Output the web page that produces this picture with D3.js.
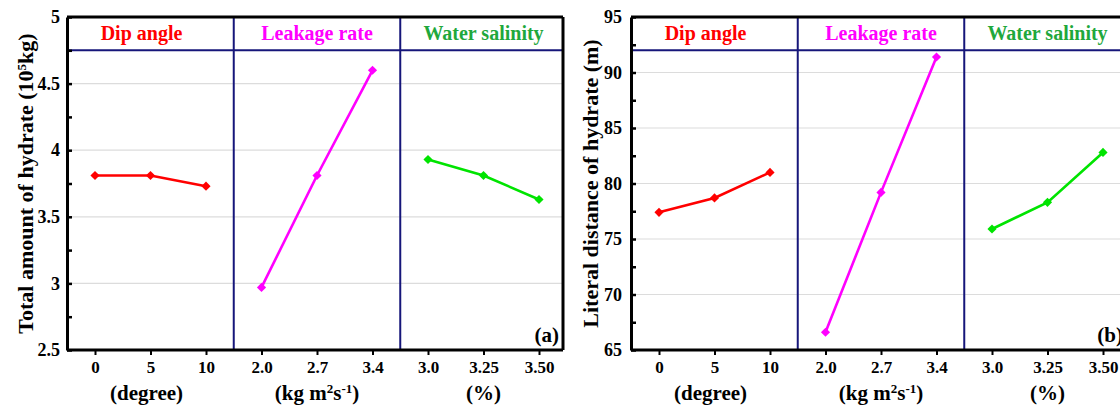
<!DOCTYPE html>
<html>
<head>
<meta charset="utf-8">
<script src="https://cdn.jsdelivr.net/npm/d3@7"></script>
<style>
  body { margin: 0; background: #fff; }
  svg { display: block; }
  svg text { font-weight: bold; fill: #000; }
</style>
</head>
<body>
<svg id="chart" width="1120" height="408"></svg>
<script>
// Factors and their levels
const groups = ["Dip angle", "Leakage rate", "Water salinity"];
const lineColors = ["#ff0000", "#ff00ff", "#00e400"];
const headerColors = ["#ff0000", "#ff00ff", "#1fa83c"];
const levelLabels = [["0", "5", "10"], ["2.0", "2.7", "3.4"], ["3.0", "3.25", "3.50"]];

// Mean response per level (one row per factor)
const hydrateAmount = [[3.81, 3.81, 3.73], [2.97, 3.81, 4.60], [3.93, 3.81, 3.63]];
const hydrateDistance = [[77.4, 78.7, 81.0], [66.6, 79.2, 91.4], [75.9, 78.3, 82.8]];

// Y axis ticks
const amountTicks = [2.5, 2.75, 3, 3.25, 3.5, 3.75, 4, 4.25, 4.5, 4.75, 5];
const amountLabelled = [2.5, 3, 3.5, 4, 4.5, 5];
const distanceTicks = [65, 67.5, 70, 72.5, 75, 77.5, 80, 82.5, 85, 87.5, 90, 92.5, 95];
const distanceLabelled = [65, 70, 75, 80, 85, 90, 95];

const svg = d3.select("#chart");
const navy = "#16167a";
const serif = '"Liberation Serif"';

function drawPanel(opt) {
  const W = 496, H = 333;
  const g = svg.append("g").attr("transform", `translate(${opt.left},${opt.top})`);

  const y = d3.scaleLinear().domain(opt.domain).range([H, 0]);
  const keys = d3.range(9);
  const x = d3.scalePoint().domain(keys).range([28, 472]);
  const step = x.step();

  // horizontal gridlines at labelled values
  g.append("g").selectAll("line")
    .data(opt.labelled.filter(v => v !== opt.domain[0] && v !== opt.domain[1]))
    .join("line")
    .attr("x1", 0).attr("x2", W)
    .attr("y1", d => y(d)).attr("y2", d => y(d))
    .attr("stroke", "#dcdcdc").attr("stroke-width", 1.2);

  // header band line and group dividers
  g.append("line")
    .attr("x1", 0).attr("x2", W)
    .attr("y1", y(opt.headerAt)).attr("y2", y(opt.headerAt))
    .attr("stroke", navy).attr("stroke-width", 2);
  [1, 2].forEach(k => {
    const xd = x(k * 3 - 1) + step / 2;
    g.append("line")
      .attr("x1", xd).attr("x2", xd).attr("y1", 0).attr("y2", H)
      .attr("stroke", navy).attr("stroke-width", 2);
  });

  // header titles
  groups.forEach((name, k) => {
    const xc = k === 0 ? x(1) - 9 : x(k * 3 + 1);
    g.append("text")
      .attr("x", xc).attr("y", y(opt.headerAt) - 10)
      .attr("text-anchor", "middle")
      .attr("font-family", serif)
      .attr("font-weight", "bold")
      .attr("font-size", 20)
      .style("fill", headerColors[k])
      .text(name);
  });

  // frame: top and right
  g.append("line").attr("x1", 0).attr("x2", W).attr("y1", 0).attr("y2", 0)
    .attr("stroke", "#000").attr("stroke-width", 3);
  g.append("line").attr("x1", W).attr("x2", W).attr("y1", 0).attr("y2", H)
    .attr("stroke", "#000").attr("stroke-width", 3);

  // left axis
  const yAxis = d3.axisLeft(y)
    .tickValues(opt.ticks)
    .tickSizeInner(-5).tickSizeOuter(0).tickPadding(opt.tickPad)
    .tickFormat(d => opt.labelled.includes(d) ? d3.format("~g")(d) : "");
  const ya = g.append("g").call(yAxis)
    .attr("font-family", serif).attr("font-weight", "bold").attr("font-size", 18);
  ya.select(".domain").attr("stroke", "#000").attr("stroke-width", 3);
  ya.selectAll(".tick line").attr("stroke", "#000").attr("stroke-width", 2.5);

  // bottom axis
  const flatLabels = levelLabels.flat();
  const xAxis = d3.axisBottom(x)
    .tickSizeInner(5).tickSizeOuter(0).tickPadding(6)
    .tickFormat(i => flatLabels[i]);
  const xa = g.append("g").attr("transform", `translate(0,${H})`).call(xAxis)
    .attr("font-family", serif).attr("font-weight", "bold").attr("font-size", 17);
  xa.select(".domain").attr("d", `M0,0H${W}`).attr("stroke", "#000").attr("stroke-width", 3);
  xa.selectAll(".tick line").attr("stroke", "#000").attr("stroke-width", 2);

  // unit labels under each group
  const units = [
    [["(degree)", 0]],
    [["(kg m", 0], ["2", 1], ["s", 0], ["-1", 1], [")", 0]],
    [["(%)", 0]]
  ];
  units.forEach((parts, k) => {
    const t = g.append("text")
      .attr("x", x(k * 3 + 1) - (k === 0 ? 4 : 0)).attr("y", H + 50)
      .attr("text-anchor", "middle")
      .attr("font-family", serif)
      .attr("font-weight", "bold")
      .attr("font-size", 21);
    let raised = false;
    parts.forEach(([s, sup]) => {
      const ts = t.append("tspan").text(s);
      if (sup && !raised) { ts.attr("dy", -7).attr("font-size", 13); raised = true; }
      else if (sup && raised) { ts.attr("font-size", 13); }
      else if (!sup && raised) { ts.attr("dy", 7); raised = false; }
    });
  });

  // y axis title
  const yt = g.append("text")
    .attr("transform", `translate(${opt.titleX},${H / 2}) rotate(-90)`)
    .attr("text-anchor", "middle")
    .attr("font-family", serif)
    .attr("font-weight", "bold")
    .attr("font-size", 22);
  let raised = false;
  opt.title.forEach(([s, sup]) => {
    const ts = yt.append("tspan").text(s);
    if (sup) { ts.attr("dy", -7).attr("font-size", 13); raised = true; }
    else if (raised) { ts.attr("dy", 7); raised = false; }
  });

  // series lines and diamond markers
  const line = d3.line().x(d => x(d.i)).y(d => y(d.v));
  const diamond = d3.symbol(d3.symbolSquare, 42);
  opt.values.forEach((vals, k) => {
    const pts = vals.map((v, j) => ({ i: k * 3 + j, v }));
    g.append("path").datum(pts)
      .attr("d", line)
      .attr("fill", "none")
      .attr("stroke", lineColors[k])
      .attr("stroke-width", 2.6);
    g.append("g").selectAll("path").data(pts).join("path")
      .attr("d", diamond)
      .attr("transform", d => `translate(${x(d.i)},${y(d.v)}) rotate(45)`)
      .attr("fill", lineColors[k]);
  });

  // panel tag
  g.append("text")
    .attr("x", W - 4).attr("y", H - 8)
    .attr("text-anchor", "end")
    .attr("font-family", serif)
    .attr("font-weight", "bold")
    .attr("font-size", 21)
    .text(opt.tag);
}

drawPanel({
  left: 67, top: 17,
  domain: [2.5, 5], headerAt: 4.75,
  ticks: amountTicks, labelled: amountLabelled,
  values: hydrateAmount,
  title: [["Total amount of hydrate (10", 0], ["5", 1], ["kg)", 0]],
  titleX: -34, tickPad: 7,
  tag: "(a)"
});

drawPanel({
  left: 631, top: 17,
  domain: [65, 95], headerAt: 92,
  ticks: distanceTicks, labelled: distanceLabelled,
  values: hydrateDistance,
  title: [["Literal distance of hydrate (m)", 0]],
  titleX: -33, tickPad: 9,
  tag: "(b)"
});
</script>
</body>
</html>
